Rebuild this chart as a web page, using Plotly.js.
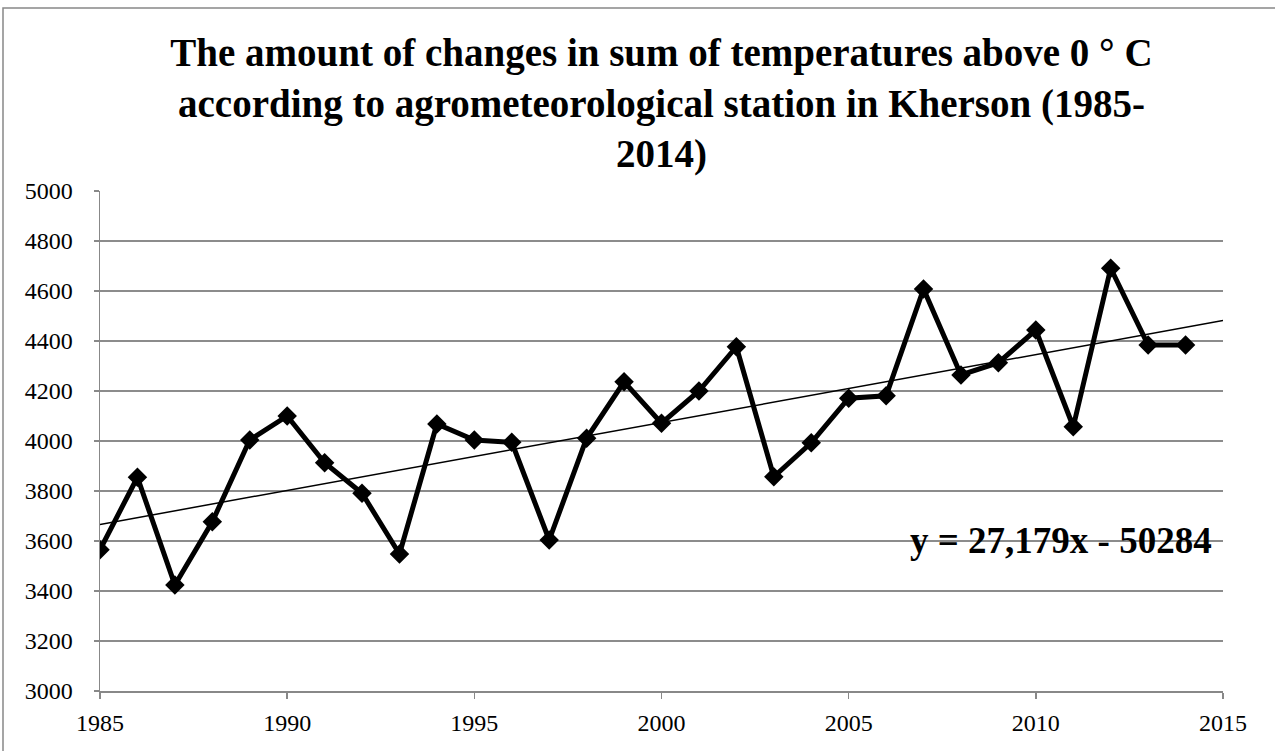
<!DOCTYPE html>
<html>
<head>
<meta charset="utf-8">
<script src="https://cdn.plot.ly/plotly-3.0.1.min.js"></script>
<style>
html,body{margin:0;padding:0;background:#fff;}
#chart{width:1275px;height:751px;}
</style>
</head>
<body>
<div id="chart"></div>
<script>
// Data
const years = [1985,1986,1987,1988,1989,1990,1991,1992,1993,1994,1995,1996,1997,1998,1999,
               2000,2001,2002,2003,2004,2005,2006,2007,2008,2009,2010,2011,2012,2013,2014];
const tempSums = [3565,3855,3424,3677,4004,4100,3913,3791,3548,4068,4004,3995,3604,4011,4237,
                  4071,4200,4377,3857,3993,4171,4181,4608,4264,4313,4444,4057,4691,4384,4384];
// Linear trendline as printed on the chart: y = 27,179x - 50284
const trendSlope = 27.179;
const trendIntercept = -50284;
const trendYears = [1985, 2015];
const trendLabel = "y = 27,179x - 50284";
const titleText = "The amount of changes in sum of temperatures above 0 ° C<br>according to agrometeorological station in Kherson (1985-<br>2014)";
const xTicks = [1985,1990,1995,2000,2005,2010,2015];
const yTicks = [3000,3200,3400,3600,3800,4000,4200,4400,4600,4800,5000];

const trendValues = trendYears.map(function(x){ return trendSlope * x + trendIntercept; });

const W = 1275, H = 751;
const M = {l: 100, r: 52, t: 191, b: 60};
const pw = W - M.l - M.r, ph = H - M.t - M.b;
function px2paperX(p){ return (p - M.l) / pw; }
function px2paperY(p){ return (H - M.b - p) / ph; }

const serif = '"Liberation Serif", "Times New Roman", Times, serif';

const traces = [
  {
    x: years, y: tempSums, type: 'scatter', mode: 'lines+markers',
    line: {color: '#000000', width: 5},
    marker: {symbol: 'diamond', size: 15, color: '#000000'},
    showlegend: false, hoverinfo: 'x+y'
  },
  {
    x: trendYears, y: trendValues, type: 'scatter', mode: 'lines',
    line: {color: '#000000', width: 1.5},
    showlegend: false, hoverinfo: 'skip'
  }
];

const layout = {
  width: W, height: H,
  margin: M,
  paper_bgcolor: '#ffffff', plot_bgcolor: '#ffffff',
  font: {family: serif, color: '#000000', size: 24},
  title: {
    text: "<b>" + titleText + "</b>",
    font: {family: serif, size: 39, color: '#000000'},
    x: 0.5, xref: 'paper', xanchor: 'center',
    y: 1 - 66/H, yref: 'container', yanchor: 'middle'
  },
  xaxis: {
    range: [1985, 2015], tickvals: xTicks, ticktext: xTicks.map(String),
    showgrid: false, zeroline: false,
    showline: true, linecolor: '#888888', linewidth: 1.5,
    ticks: 'outside', ticklen: 6, tickcolor: '#888888', tickwidth: 1.5,
    ticklabelstandoff: 4,
    tickfont: {family: serif, size: 24, color: '#000000'},
    fixedrange: true
  },
  yaxis: {
    range: [3000, 5000], tickvals: yTicks, ticktext: yTicks.map(String),
    showgrid: true, gridcolor: '#8c8c8c', gridwidth: 1.5,
    zeroline: false,
    showline: true, linecolor: '#888888', linewidth: 1.5,
    ticks: 'outside', ticklen: 5, tickcolor: '#888888', tickwidth: 1.5,
    ticklabelstandoff: 16,
    tickfont: {family: serif, size: 24, color: '#000000'},
    fixedrange: true
  },
  annotations: [
    {
      text: "<b>" + trendLabel + "</b>",
      x: 2014.75, xref: 'x', xanchor: 'right',
      y: 3604, yref: 'y', yanchor: 'middle',
      showarrow: false,
      font: {family: serif, size: 37, color: '#000000'}
    }
  ],
  shapes: [
    {
      type: 'rect', xref: 'paper', yref: 'paper',
      x0: px2paperX(3), x1: px2paperX(1290),
      y0: px2paperY(770), y1: px2paperY(8),
      line: {color: '#888888', width: 1.5},
      fillcolor: 'rgba(0,0,0,0)', layer: 'above'
    }
  ]
};

Plotly.newPlot('chart', traces, layout, {displayModeBar: false, staticPlot: true});
</script>
</body>
</html>
